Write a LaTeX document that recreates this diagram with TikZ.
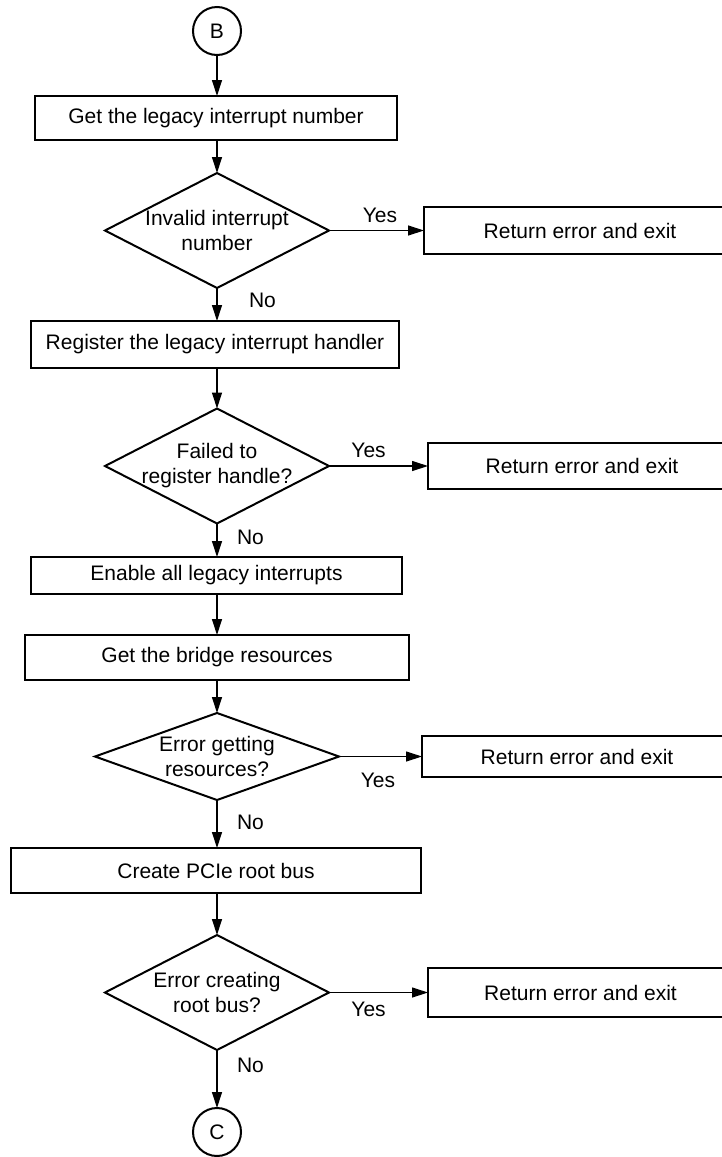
\documentclass[tikz,border=0pt]{standalone}
\usepackage{fontspec}
\setmainfont{Liberation Sans}
\usetikzlibrary{shapes.geometric,arrows.meta}
\begin{document}
\begin{tikzpicture}[x=1pt,y=-1pt,
  every node/.style={font=\fontsize{21}{25}\selectfont, outer sep=0pt},
  proc/.style={draw, line width=2pt, rectangle, inner sep=0pt, align=center},
  dia/.style={draw, line width=2pt, diamond, inner sep=0pt},
  conn/.style={draw, line width=2pt, circle, inner sep=0pt, minimum size=48pt},
  arr/.style={line width=1.2pt, -{Triangle[length=16pt,width=10pt]}},
  lbl/.style={inner sep=0pt}]
\useasboundingbox (0,0) rectangle (722,1157);

% main column
\node[conn] (B) at (217,31) {B};
\node[proc, minimum width=362pt, minimum height=44pt] (get) at (216,118) {Get the legacy interrupt number};
\node[dia, minimum width=224pt, minimum height=115pt] (d1) at (217,230.5) {};
\node[align=center] (t1) at (d1) {Invalid interrupt\\number};
\node[proc, minimum width=368pt, minimum height=47pt] (reg) at (215,344.5) {Register the legacy interrupt handler};
\node[dia, minimum width=224pt, minimum height=115pt] (d2) at (217,466) {};
\node[align=center] (t2) at (d2) {Failed to\\register handle?};
\node[proc, minimum width=371pt, minimum height=37pt] (en) at (216.5,575.5) {Enable all legacy interrupts};
\node[proc, minimum width=384pt, minimum height=45pt] (br) at (217,657.5) {Get the bridge resources};
\node[dia, minimum width=244pt, minimum height=87pt] (d3) at (217,756.5) {};
\node[align=center] (t3) at (d3) {Error getting\\resources?};
\node[proc, minimum width=410pt, minimum height=45pt] (pc) at (216,870.5) {Create PCIe root bus};
\node[dia, minimum width=224pt, minimum height=115pt] (d4) at (217,992.5) {};
\node[align=center] (t4) at (d4) {Error creating\\root bus?};
\node[conn] (C) at (217,1132) {C};

% error exits
\node[proc, minimum width=312pt, minimum height=47pt] (r1) at (580,230.5) {Return error and exit};
\node[proc, minimum width=308pt, minimum height=46pt] (r2) at (582,466) {Return error and exit};
\node[proc, minimum width=310pt, minimum height=41pt] (r3) at (577,756.5) {Return error and exit};
\node[proc, minimum width=305pt, minimum height=49pt] (r4) at (580.5,992.5) {Return error and exit};

% vertical flow
\draw[arr] (B.south) -- (B.south |- get.north);
\draw[arr] (d1.north |- get.south) -- (d1.north);
\draw[arr] (d1.south) -- (d1.south |- reg.north)
  node[lbl, pos=0.36, anchor=west, xshift=32pt] {No};
\draw[arr] (d2.north |- reg.south) -- (d2.north);
\draw[arr] (d2.south) -- (d2.south |- en.north)
  node[lbl, pos=0.41, anchor=west, xshift=20pt] {No};
\draw[arr] (d2.south |- en.south) -- (d2.south |- br.north);
\draw[arr] (d3.north |- br.south) -- (d3.north);
\draw[arr] (d3.south) -- (d3.south |- pc.north)
  node[lbl, pos=0.46, anchor=west, xshift=20pt] {No};
\draw[arr] (d4.north |- pc.south) -- (d4.north);
\draw[arr] (d4.south) -- (C.north)
  node[lbl, pos=0.27, anchor=west, xshift=20pt] {No};

% yes branches
\draw[arr] (d1.east) -- (r1.west)
  node[lbl, pos=0.537, anchor=south, yshift=7.5pt] {Yes};
\draw[arr] (d2.east) -- (r2.west)
  node[lbl, pos=0.40, anchor=south, yshift=8pt] {Yes};
\draw[arr] (d3.east) -- (r3.west)
  node[lbl, pos=0.47, anchor=north, yshift=-16.5pt] {Yes};
\draw[arr] (d4.east) -- (r4.west)
  node[lbl, pos=0.40, anchor=north, yshift=-9.5pt] {Yes};
\end{tikzpicture}
\end{document}
